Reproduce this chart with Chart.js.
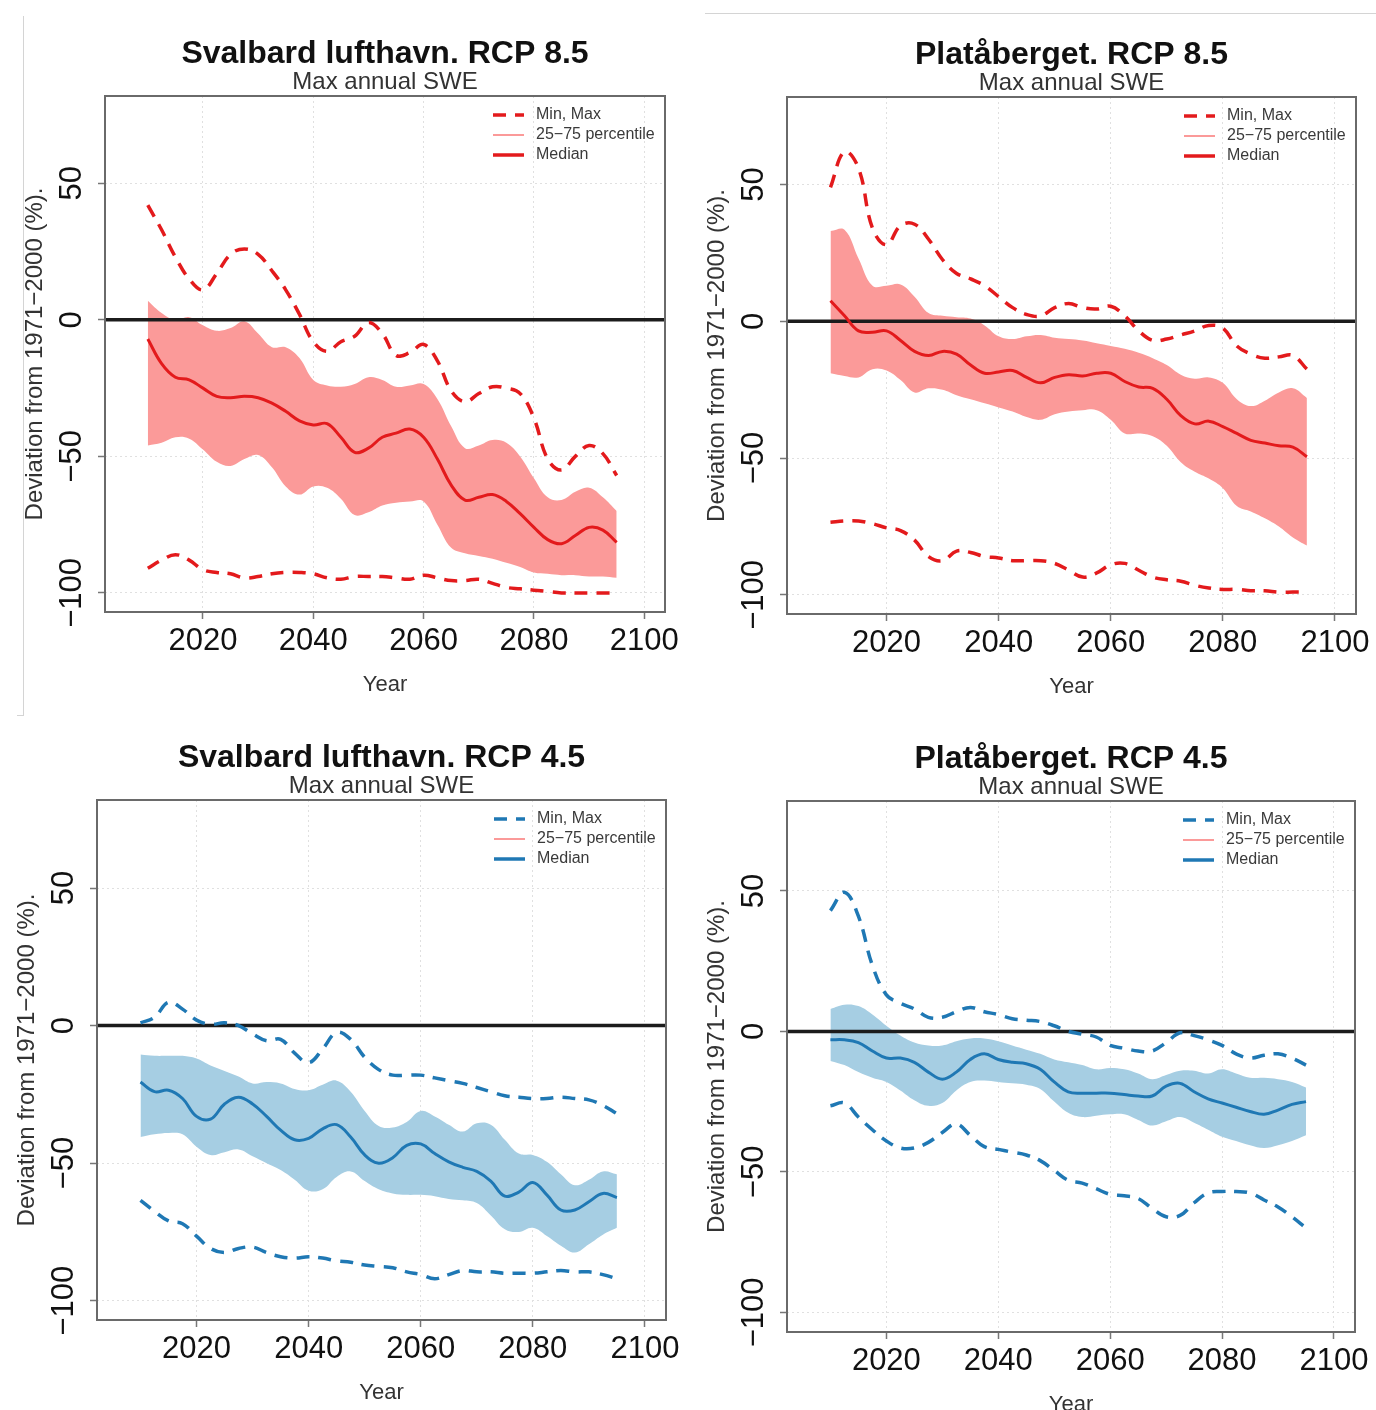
<!DOCTYPE html>
<html>
<head>
<meta charset="utf-8">
<script src="https://cdn.jsdelivr.net/npm/chart.js@4.4.1/dist/chart.umd.min.js"></script>
<style>
  html, body { margin: 0; padding: 0; background: #fff; }
  body { width: 1376px; height: 1410px; position: relative; overflow: hidden; }
  canvas { position: absolute; }
  .edge { position: absolute; background: #d4d4d4; }
</style>
</head>
<body>
<div class="edge" style="left:23px;top:16px;width:1px;height:700px"></div>
<div class="edge" style="left:17px;top:715px;width:7px;height:1px"></div>
<div class="edge" style="left:705px;top:13px;width:671px;height:1px"></div>
<canvas id="c1"></canvas>
<canvas id="c2"></canvas>
<canvas id="c3"></canvas>
<canvas id="c4"></canvas>
<script>
// years of the smoothed series
const years = [2010, 2012.5, 2015, 2017.5, 2020, 2022.5, 2025, 2027.5, 2030, 2032.5,
  2035, 2037.5, 2040, 2042.5, 2045, 2047.5, 2050, 2052.5, 2055, 2057.5,
  2060, 2062.5, 2065, 2067.5, 2070, 2072.5, 2075, 2077.5, 2080, 2082.5,
  2085, 2087.5, 2090, 2092.5, 2095];

const xTicks = [2020, 2040, 2060, 2080, 2100];
const yTicks = [-100, -50, 0, 50];
const xRange = [2002.24, 2103.76];
const yRange = [-107, 82];

// Svalbard lufthavn, RCP 8.5
const sv85Max = [42, 33, 23, 15, 11, 17, 24, 26, 24, 18, 11, 2, -8, -11.5, -8, -6, -1, -5, -13, -12, -9, -15, -26, -30, -27, -24.5, -25, -27, -36, -51, -55, -50, -46, -49, -57];
const sv85Min = [-91, -88, -86, -88, -91.5, -92.5, -93, -94.5, -94, -93, -92.5, -92.5, -93, -94.5, -95, -94, -94, -94, -94.5, -95, -93.5, -94.5, -95.5, -95.5, -95, -96.5, -98, -98.5, -99, -99.5, -100, -100, -100, -100, -100];
const sv85Q75 = [7, 2.5, 0, 1, -2, -4, -3, -0.5, -5, -10, -10, -14, -22, -24, -24.5, -23.5, -21, -22, -24.5, -24, -23.5, -29, -39, -47, -46, -44, -45, -50, -58, -65, -66, -63, -61.5, -65, -70];
const sv85Q25 = [-46, -45, -43, -43.5, -47.5, -52, -53.5, -51, -49.5, -54, -61, -64, -61, -61.5, -65.5, -71.5, -70.5, -68, -67, -66.5, -66.5, -75, -83.5, -85.5, -86.5, -87.5, -89, -90.5, -92.5, -93, -93.5, -93.5, -94, -94, -94.5];
const sv85Med = [-7, -16, -21, -22, -25, -28, -28.5, -28, -28.5, -30.5, -33.5, -37, -38.5, -38, -43, -48.5, -47, -43, -41.5, -40, -43, -51, -60.5, -66, -65, -64, -66.5, -71, -76, -80.5, -82, -79, -76, -77, -81.5];

// Plataberget, RCP 8.5
const pl85Max = [49, 62, 56, 34, 28, 35, 35.5, 30, 22.5, 17.5, 15.5, 13, 9, 5, 2.5, 2, 5, 6.5, 5, 4.5, 5.5, 2, -3.5, -7, -6.5, -5, -3.5, -1.5, -2.5, -9, -12, -13.5, -13, -12.5, -17.5];
const pl85Min = [-73.5, -73, -73, -74, -75.5, -76.5, -80, -86, -87.5, -84, -84.5, -86, -86.5, -87.5, -87.5, -87.5, -88.5, -91, -93.5, -92, -89, -88.5, -91, -93.5, -94.5, -95, -96.5, -97.5, -98, -98, -98.5, -98.5, -99, -99, -99];
const pl85Q75 = [33, 33.5, 23, 13, 13, 13.5, 9, 3, 2, 1.5, 1, -1.5, -5.5, -6.5, -5.5, -5, -6, -6.5, -7, -8, -9, -10, -11.5, -13.5, -16, -19.5, -21, -20.5, -22.5, -28.5, -31, -29, -26, -24.5, -28];
const pl85Q25 = [-19, -20, -20.5, -17.5, -18, -21.5, -26, -24.5, -25, -27, -28.5, -30, -31.5, -33, -35, -36, -34, -33, -32.5, -32.5, -36, -41, -41, -42, -45.5, -51.5, -55, -57.5, -61, -67.5, -69.5, -72, -75, -79, -82];
const pl85Med = [7.5, 2, -3.5, -4, -3.5, -7, -11, -12.5, -11, -12, -16, -19, -18.5, -18, -20.5, -22.5, -20.5, -19.5, -20, -19, -19, -22, -24, -24.5, -28.5, -34.5, -37.5, -36.5, -38.5, -41, -43.5, -44.5, -45.5, -46, -49.5];

// Svalbard lufthavn, RCP 4.5
const sv45Max = [1, 3, 8.5, 6, 2, 0.5, 1, 0, -3, -5.5, -5, -10, -13.5, -8.5, -2.5, -5, -11.5, -16, -18, -18, -18, -19, -20, -21, -22.5, -24, -25.5, -26, -26.5, -26.5, -26, -26.5, -27, -29, -32];
const sv45Min = [-63.5, -67.5, -71, -72, -76.5, -81, -82.5, -81, -80.5, -82.5, -84, -84.5, -84, -84.5, -85.5, -86, -87, -87.5, -88, -89.5, -90.5, -92, -90.5, -89, -89.5, -89.5, -90, -90, -90, -89.5, -89, -89.5, -89.5, -90.5, -92];
const sv45Q75 = [-10.5, -11, -11, -11, -12, -14.5, -16.5, -18.5, -21, -20.5, -21, -23, -23.5, -21.5, -20, -24, -31, -36.5, -37, -35, -31, -33, -36, -38.5, -35.5, -36, -41.5, -46.5, -47, -49.5, -54, -58, -56, -53, -54];
const sv45Q25 = [-40.5, -39.5, -39, -39.5, -44, -47, -46, -45, -47.5, -50, -52.5, -56, -60, -59.5, -55, -53, -56.5, -59.5, -61, -61.5, -61.5, -62, -63, -63.5, -64.5, -69, -74, -75, -73.5, -76.5, -80, -82.5, -79.5, -76, -73.5];
const sv45Med = [-20.5, -24, -23.5, -26.5, -33, -34, -28.5, -26, -28.5, -33, -38, -41.5, -41, -37.5, -36, -40.5, -47, -50, -48, -43.5, -43, -46.5, -49.5, -51.5, -53, -56.5, -62, -60.5, -57, -61.5, -67, -67, -64, -61, -62.5];

// Plataberget, RCP 4.5
const pl45Max = [43, 49.5, 41, 23.5, 13, 10, 8, 5, 5, 7, 8.5, 7, 6, 4.5, 4, 3.5, 2, 0, -1, -2, -5, -6, -7, -7, -4, -0.5, -1.5, -3, -5, -8, -9.5, -8.5, -8, -9.5, -12];
const pl45Min = [-26.5, -25.5, -30.5, -35, -39, -41.5, -41.5, -39.5, -36, -33, -37, -41, -42, -43, -44, -46, -49.5, -53, -54, -56, -58, -58.5, -59.5, -63, -66, -65.5, -61, -57.5, -57, -57, -57.5, -60, -62.5, -66, -70];
const pl45Q75 = [8, 9.5, 9, 6, 2, -1.5, -4, -5, -5, -3.5, -2.5, -2.5, -3.5, -5, -6.5, -8, -10, -11, -12, -13.5, -13, -13.5, -15, -17, -15.5, -14, -14, -15, -13.5, -15, -16.5, -16.5, -17, -18, -20];
const pl45Q25 = [-10.5, -12, -14.5, -16.5, -18, -21, -24.5, -26.5, -25.5, -21, -18, -17.5, -18, -18.5, -19, -20.5, -25, -29, -30.5, -30, -29.5, -29.5, -31.5, -33.5, -32, -30.5, -32.5, -35, -37.5, -39, -40.5, -41.5, -40.5, -39, -37];
const pl45Med = [-3, -3, -4, -7, -9.5, -9.5, -11, -14.5, -17, -14.5, -10, -8, -10, -11, -11.5, -13.5, -18, -21.5, -22, -22, -22, -22.5, -23, -23, -19.5, -18.5, -21.5, -24, -25.5, -27, -28.5, -29.5, -28, -26, -25];

const FONT = "'Liberation Sans', Arial, Helvetica, sans-serif";
const RED = '#e31a1c', RED_BAND = '#fb9a99';
const BLUE = '#1f78b4', BLUE_BAND = '#a6cee3';
const PINK = '#fb9a99';

// plot-box geometry in page pixels (left, top, right, bottom)
const LEFT_W = 104, TOP_H = 96, BOTTOM_H = 100, RIGHT_PAD = 24;

const panels = [
  { id: 'c1', title: 'Svalbard lufthavn. RCP 8.5', box: [105, 96, 665, 612], line: RED, band: RED_BAND,
    max: sv85Max, min: sv85Min, q75: sv85Q75, q25: sv85Q25, med: sv85Med },
  { id: 'c2', title: 'Platåberget. RCP 8.5', box: [787, 97, 1356, 614], line: RED, band: RED_BAND,
    max: pl85Max, min: pl85Min, q75: pl85Q75, q25: pl85Q25, med: pl85Med },
  { id: 'c3', title: 'Svalbard lufthavn. RCP 4.5', box: [97, 800, 666, 1320], line: BLUE, band: BLUE_BAND,
    max: sv45Max, min: sv45Min, q75: sv45Q75, q25: sv45Q25, med: sv45Med },
  { id: 'c4', title: 'Platåberget. RCP 4.5', box: [787, 801, 1355, 1332], line: BLUE, band: BLUE_BAND,
    max: pl45Max, min: pl45Min, q75: pl45Q75, q25: pl45Q25, med: pl45Med }
];

// zero line over the band, plot frame and the inset legend
const frame = {
  id: 'frame',
  afterDatasetDraw(chart, args) {
    if (args.index !== 3) return;
    const { ctx, chartArea: a } = chart;
    const y0 = chart.scales.y.getPixelForValue(0);
    ctx.save();
    ctx.strokeStyle = '#1c1c1c';
    ctx.lineWidth = 3.5;
    ctx.beginPath();
    ctx.moveTo(a.left, y0);
    ctx.lineTo(a.right, y0);
    ctx.stroke();
    ctx.restore();
  },
  afterDraw(chart, args, opts) {
    const { ctx, chartArea: a } = chart;
    ctx.save();
    ctx.strokeStyle = '#6a6a6a';
    ctx.lineWidth = 2;
    ctx.strokeRect(a.left, a.top, a.right - a.left, a.bottom - a.top);

    const rows = [
      { text: 'Min, Max', color: opts.line, dash: [13, 9], w: 3.5 },
      { text: '25\u221275 percentile', color: PINK, dash: [], w: 2 },
      { text: 'Median', color: opts.line, dash: [], w: 3.5 }
    ];
    ctx.font = '16px ' + FONT;
    ctx.textBaseline = 'middle';
    ctx.textAlign = 'left';
    rows.forEach((r, i) => {
      const y = a.top + 19 + i * 20;
      ctx.setLineDash(r.dash);
      ctx.strokeStyle = r.color;
      ctx.lineWidth = r.w;
      ctx.beginPath();
      ctx.moveTo(a.right - 172, y);
      ctx.lineTo(a.right - 141, y);
      ctx.stroke();
      ctx.setLineDash([]);
      ctx.fillStyle = '#3a3a3a';
      ctx.fillText(r.text, a.right - 129, y);
    });
    ctx.restore();
  }
};

function pts(arr) {
  return years.map((x, i) => ({ x: x, y: arr[i] }));
}

function makeChart(p) {
  const [l, t, r, b] = p.box;
  const canvas = document.getElementById(p.id);
  canvas.width = (r - l) + LEFT_W + RIGHT_PAD;
  canvas.height = (b - t) + TOP_H + BOTTOM_H;
  canvas.style.left = (l - LEFT_W) + 'px';
  canvas.style.top = (t - TOP_H) + 'px';

  new Chart(canvas, {
    type: 'line',
    data: {
      datasets: [
        { label: 'Median', data: pts(p.med), borderColor: p.line, borderWidth: 3, fill: false },
        { label: 'Max', data: pts(p.max), borderColor: p.line, borderWidth: 3.5, borderDash: [13, 9], fill: false },
        { label: 'Min', data: pts(p.min), borderColor: p.line, borderWidth: 3.5, borderDash: [13, 9], fill: false },
        { label: '75', data: pts(p.q75), borderWidth: 0, borderColor: p.band, backgroundColor: p.band, fill: '+1' },
        { label: '25', data: pts(p.q25), borderWidth: 0, borderColor: p.band, fill: false }
      ]
    },
    options: {
      responsive: false,
      animation: false,
      devicePixelRatio: 1,
      layout: { padding: { left: 0, top: 0, right: RIGHT_PAD, bottom: 0 } },
      elements: {
        point: { radius: 0 },
        line: { tension: 0.4, borderJoinStyle: 'round' }
      },
      plugins: {
        legend: { display: false },
        tooltip: { enabled: false },
        frame: { line: p.line },
        title: {
          display: true, text: p.title, fullSize: false, color: '#111',
          font: { family: FONT, size: 32, weight: 'bold', lineHeight: 1 },
          padding: { top: 38, bottom: 0 }
        },
        subtitle: {
          display: true, text: 'Max annual SWE', fullSize: false, color: '#333',
          font: { family: FONT, size: 24, lineHeight: 1 },
          padding: { top: 0, bottom: 2 }
        }
      },
      scales: {
        x: {
          type: 'linear', min: xRange[0], max: xRange[1],
          afterBuildTicks: s => { s.ticks = xTicks.map(v => ({ value: v })); },
          afterFit: s => { s.height = BOTTOM_H; },
          ticks: { callback: v => String(v), color: '#111', font: { family: FONT, size: 31 },
                   padding: 4, maxRotation: 0, autoSkip: false },
          grid: { color: '#e0e0e0', lineWidth: 1, tickLength: 7, tickColor: '#777', tickWidth: 1.5 },
          border: { display: false, dash: [2, 3] },
          title: { display: true, text: 'Year', color: '#333', font: { family: FONT, size: 22 },
                   padding: { top: 0, bottom: 14 } }
        },
        y: {
          type: 'linear', min: yRange[0], max: yRange[1],
          afterBuildTicks: s => { s.ticks = yTicks.map(v => ({ value: v })); },
          afterFit: s => { s.width = LEFT_W; },
          ticks: { callback: v => String(v).replace('-', '\u2212'), color: '#111',
                   font: { family: FONT, size: 31 }, minRotation: 90, maxRotation: 90,
                   crossAlign: 'center', padding: -9, autoSkip: false },
          grid: { color: c => (c.tick && c.tick.value === 0) ? 'rgba(0,0,0,0)' : '#e0e0e0',
                  lineWidth: 1, tickLength: 7, tickColor: '#777', tickWidth: 1.5 },
          border: { display: false, dash: [2, 3] },
          title: { display: true, text: 'Deviation from 1971\u22122000 (%).', color: '#333',
                   font: { family: FONT, size: 24 }, padding: { top: 20, bottom: 0 } }
        }
      }
    },
    plugins: [frame]
  });
}

panels.forEach(makeChart);
</script>
</body>
</html>
